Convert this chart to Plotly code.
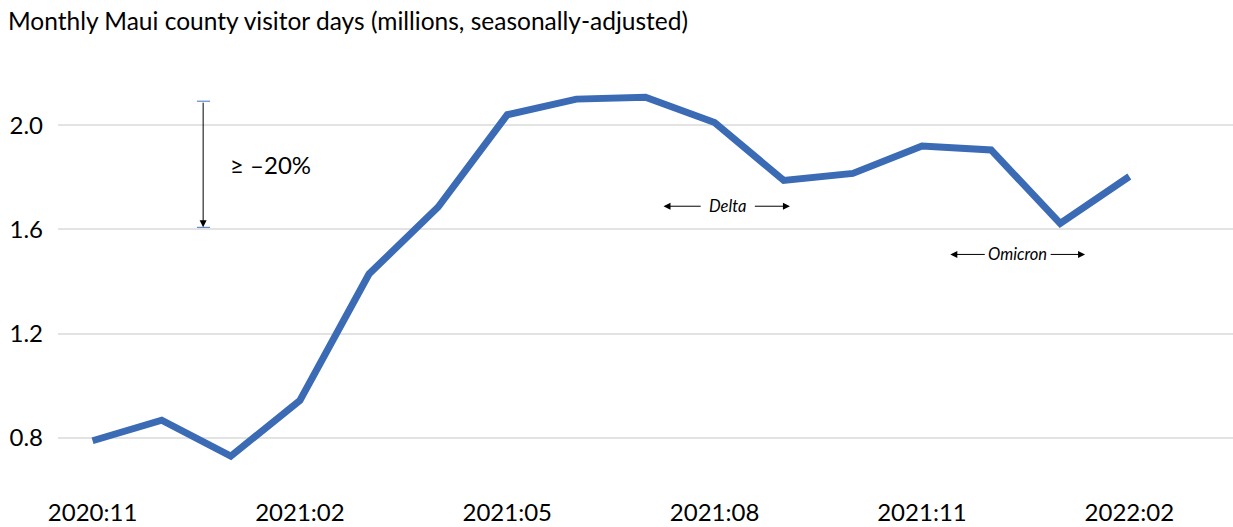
import plotly.graph_objects as go

# Monthly visitor days, Maui county (millions, seasonally adjusted)
months = ["2020:11", "2020:12", "2021:01", "2021:02", "2021:03", "2021:04",
          "2021:05", "2021:06", "2021:07", "2021:08", "2021:09", "2021:10",
          "2021:11", "2021:12", "2022:01", "2022:02"]
visitor_days = [0.789, 0.868, 0.730, 0.944, 1.429, 1.686,
                2.040, 2.100, 2.107, 2.010, 1.788, 1.815,
                1.920, 1.905, 1.623, 1.803]
y_ticks = [0.8, 1.2, 1.6, 2.0]
x_tick_labels = ["2020:11", "2021:02", "2021:05", "2021:08", "2021:11", "2022:02"]

FONT = "Lato"
BLUE = "#3A6BB4"

idx = list(range(len(months)))
x_tick_pos = [months.index(m) for m in x_tick_labels]

fig = go.Figure()
fig.add_trace(go.Scatter(
    x=idx, y=visitor_days, mode="lines",
    line=dict(color=BLUE, width=7, shape="linear"),
    hoverinfo="skip", showlegend=False,
))

annotations = []
shapes = []

# Vertical drop marker
drop_x = 1.6
drop_top, drop_bot = 2.092, 1.608
annotations.append(dict(
    x=drop_x, y=drop_bot, ax=drop_x, ay=drop_top,
    xref="x", yref="y", axref="x", ayref="y",
    text="", showarrow=True, arrowhead=2, arrowsize=1.4, arrowwidth=1,
    arrowcolor="#000000",
))
for yy in (drop_top, drop_bot):
    shapes.append(dict(type="line", xref="x", yref="y",
                       x0=1.51, x1=1.70, y0=yy, y1=yy,
                       line=dict(color="#4472C4", width=1)))
annotations.append(dict(
    x=1.96, y=1.85, xref="x", yref="y", text="≥ –20%",
    showarrow=False, xanchor="left", yanchor="middle",
    font=dict(family=FONT, size=24, color="#000000"),
))


def span_label(text, xc, y, left_from, left_to, right_from, right_to):
    annotations.append(dict(
        x=xc, y=y, xref="x", yref="y", text=f"<i>{text}</i>",
        showarrow=False, xanchor="center", yanchor="middle",
        font=dict(family=FONT, size=16.5, color="#000000"),
    ))
    for x0, x1 in ((left_from, left_to), (right_from, right_to)):
        annotations.append(dict(
            x=x1, y=y, ax=x0, ay=y,
            xref="x", yref="y", axref="x", ayref="y",
            text="", showarrow=True, arrowhead=2, arrowsize=1.4,
            arrowwidth=1, arrowcolor="#000000",
        ))


span_label("Delta", 9.19, 1.689, 8.82, 8.26, 9.56, 10.09)
span_label("Omicron", 13.38, 1.504, 12.93, 12.41, 13.84, 14.36)

fig.update_layout(
    width=1233, height=527,
    margin=dict(l=58, r=0, t=47, b=37),
    paper_bgcolor="#FFFFFF", plot_bgcolor="#FFFFFF",
    font=dict(family=FONT, size=24, color="#000000"),
    title=dict(
        text="Monthly Maui county visitor days (millions, seasonally-adjusted)",
        xref="container", yref="container", x=8 / 1233, y=1 - 21 / 527,
        xanchor="left", yanchor="middle",
        font=dict(family=FONT, size=24.5, color="#000000"),
    ),
    xaxis=dict(
        range=[-0.5, 16.5], tickvals=x_tick_pos, ticktext=x_tick_labels,
        showgrid=False, zeroline=False, showline=False, ticks="",
        tickfont=dict(family=FONT, size=24), ticklabelstandoff=6,
        fixedrange=True,
    ),
    yaxis=dict(
        range=[0.6, 2.3], tickvals=y_ticks, ticktext=[f"{v:.1f}" for v in y_ticks],
        showgrid=True, gridcolor="#E3E3E3", gridwidth=2,
        zeroline=False, showline=False, ticks="",
        tickfont=dict(family=FONT, size=24), ticklabelstandoff=14,
        fixedrange=True,
    ),
    annotations=annotations,
    shapes=shapes,
)

fig.write_html("out.html", config={"displayModeBar": False})
